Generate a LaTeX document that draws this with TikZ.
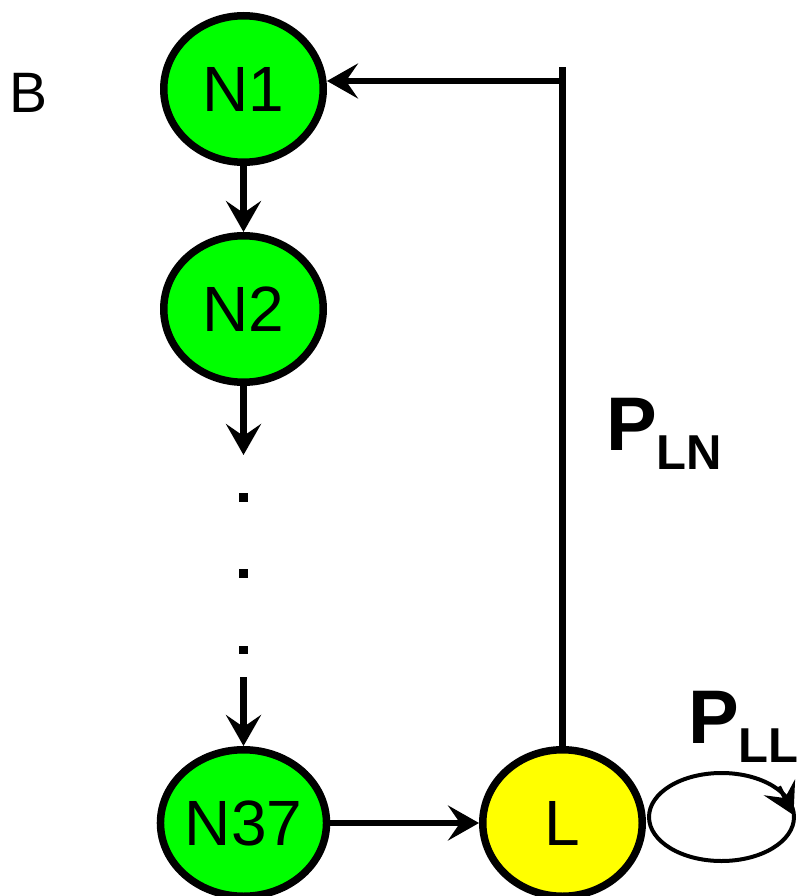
\documentclass[tikz,border=0pt]{standalone}
\usepackage{fontspec}
\setmainfont{Liberation Sans}
\usetikzlibrary{arrows.meta,shapes.geometric}
\definecolor{stategreen}{RGB}{0,255,0}
\definecolor{stateyellow}{RGB}{255,255,0}
\tikzset{
  state/.style={ellipse, draw=black, line width=7.5pt,
    minimum width=159.5pt, minimum height=146.5pt, inner sep=0pt,
    font=\fontsize{64}{64}\selectfont},
  headtip/.style={-{Stealth[length=31pt,width=35pt,inset=12pt]}},
  link/.style={line width=6.5pt, headtip},
  plain/.style={line width=6.5pt},
  loopline/.style={line width=4pt},
  dotmark/.style={rectangle, fill=black, minimum size=8.5pt, inner sep=0pt},
  prob/.style={inner sep=0pt, anchor=base west},
}
\newcommand{\probsub}[1]{{\bfseries\fontsize{76}{76}\selectfont P}\raisebox{-19pt}{\bfseries\fontsize{49}{49}\selectfont #1}}
\begin{document}
\begin{tikzpicture}[x=1pt,y=-1pt]
\useasboundingbox (0,0) rectangle (799,896);

% panel letter
\node[inner sep=0pt, anchor=base west, font=\fontsize{57}{57}\selectfont] (panel) at (9,113) {B};

% states
\node[state, fill=stategreen] (n1) at (243.5,89) {N1};
\node[state, fill=stategreen] (n2) at (243.5,309) {N2};
\node[state, fill=stategreen] (n37) at (243.5,823) {N37};
\node[state, fill=stateyellow] (l) at (562.5,823) {L};

% chain of states
\draw[link] (n1.south) -- (n2.north);
\coordinate (gapin) at (243.5,455);
\coordinate (gapout) at (243.5,677);
\draw[link] (n2.south) -- (gapin);
\node[dotmark] (d1) at (243.5,497.5) {};
\node[dotmark] (d2) at (243.5,573.5) {};
\node[dotmark] (d3) at (243.5,650) {};
\draw[link] (gapout) -- (n37.north);
\draw[link] (n37.east) -- (l.west);

% return from L to N1
\coordinate (top) at (562.5,67);
\coordinate (corner) at (562.5,81);
\draw[plain] (l.north) -- (top);
\draw[link] (corner) -- (corner -| n1.east);
\node[prob] (pln) at (606,450) {\probsub{LN}};

% self loop on L
\coordinate (loopstart) at (794,817);
\coordinate (loopaim) at (779,786.5);
\coordinate (looptip) at (793.5,815);
\draw[loopline] (loopstart) arc[start angle=0, end angle=360, x radius=72.5, y radius=44];
\draw[loopline, headtip] (loopaim) -- (looptip);
\node[prob] (pll) at (688,743) {\probsub{LL}};
\end{tikzpicture}
\end{document}
